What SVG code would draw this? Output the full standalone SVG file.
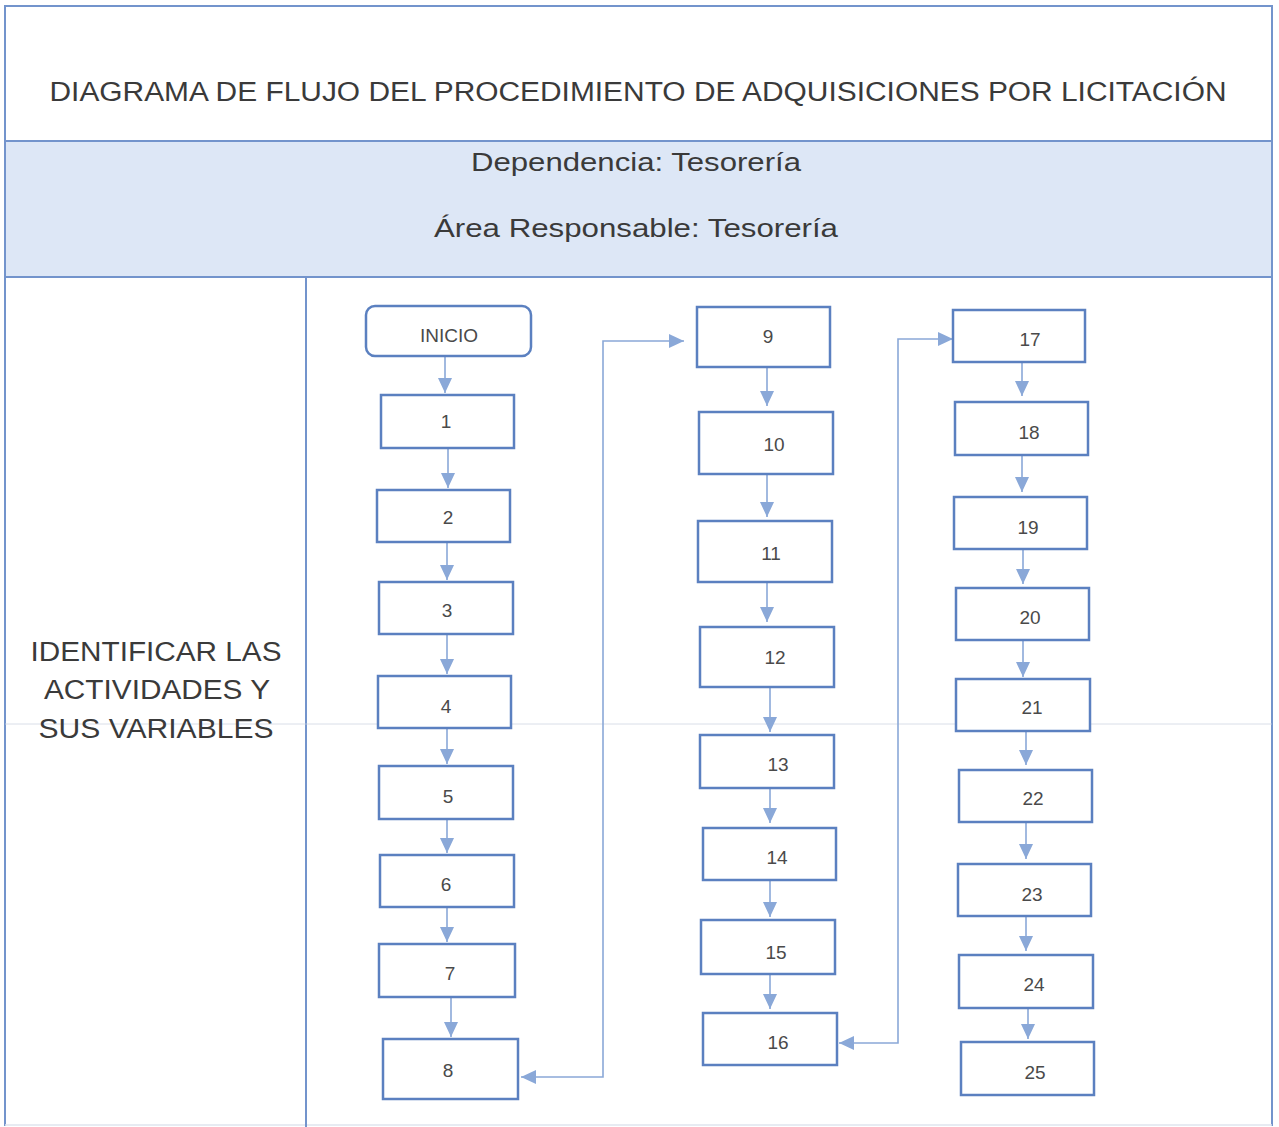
<svg xmlns="http://www.w3.org/2000/svg" width="1279" height="1127" viewBox="0 0 1279 1127">
<defs>
<style>
.frame{fill:none;stroke:#7394cc;stroke-width:2}
.box{fill:#ffffff;stroke:#5b80c0;stroke-width:2.5}
.lbl{font-family:"Liberation Sans",Arial,sans-serif;font-size:19px;fill:#4a4a4a;text-anchor:middle}
.hdr{font-family:"Liberation Sans",Arial,sans-serif;fill:#3a3a3a;text-anchor:middle}
.conn{fill:none;stroke:#8aa8d8;stroke-width:1.6}
</style>
<marker id="ah" markerUnits="userSpaceOnUse" markerWidth="16" markerHeight="16" viewBox="0 0 16 16" refX="15" refY="8" orient="auto-start-reverse">
<path d="M0,1 L15,8 L0,15 Z" fill="#8aa8d8"/>
</marker>
</defs>
<rect x="0" y="0" width="1279" height="1127" fill="#ffffff"/>
<rect x="6" y="142" width="1266" height="135" fill="#dde7f6"/>
<path d="M5,1126 V6 H1272 V1126" class="frame"/>
<line x1="5" y1="1125" x2="1272" y2="1125" stroke="#dfe4ee" stroke-width="1.5"/>
<line x1="5" y1="141" x2="1272" y2="141" class="frame" stroke-width="3"/>
<line x1="5" y1="277" x2="1272" y2="277" class="frame"/>
<line x1="306" y1="277" x2="306" y2="1127" class="frame"/>
<line x1="5" y1="724" x2="1272" y2="724" stroke="#c9d2e0" stroke-width="1" opacity="0.7"/>
<g id="header">
<text class="hdr" x="638" y="101" font-size="27" textLength="1177" lengthAdjust="spacingAndGlyphs">DIAGRAMA DE FLUJO DEL PROCEDIMIENTO DE ADQUISICIONES POR LICITACIÓN</text>
<text class="hdr" x="636" y="171" font-size="26" textLength="330" lengthAdjust="spacingAndGlyphs">Dependencia: Tesorería</text>
<text class="hdr" x="636" y="237" font-size="26" textLength="404" lengthAdjust="spacingAndGlyphs">Área Responsable: Tesorería</text>
</g>
<g id="side-label">
<text class="hdr" x="156" y="661" font-size="27" textLength="251" lengthAdjust="spacingAndGlyphs">IDENTIFICAR LAS</text>
<text class="hdr" x="157" y="699" font-size="27" textLength="226" lengthAdjust="spacingAndGlyphs">ACTIVIDADES Y</text>
<text class="hdr" x="156" y="738" font-size="27" textLength="235" lengthAdjust="spacingAndGlyphs">SUS VARIABLES</text>
</g>
<g id="connectors">
<line class="conn" x1="445" y1="357" x2="445" y2="393" marker-end="url(#ah)"/>
<line class="conn" x1="448" y1="449" x2="448" y2="488" marker-end="url(#ah)"/>
<line class="conn" x1="447" y1="543" x2="447" y2="580" marker-end="url(#ah)"/>
<line class="conn" x1="447" y1="635" x2="447" y2="674" marker-end="url(#ah)"/>
<line class="conn" x1="447" y1="729" x2="447" y2="764" marker-end="url(#ah)"/>
<line class="conn" x1="447" y1="820" x2="447" y2="853" marker-end="url(#ah)"/>
<line class="conn" x1="447" y1="908" x2="447" y2="942" marker-end="url(#ah)"/>
<line class="conn" x1="451" y1="998" x2="451" y2="1037" marker-end="url(#ah)"/>
<polyline class="conn" points="521,1077 603,1077 603,341 684,341" marker-start="url(#ah)" marker-end="url(#ah)"/>
<line class="conn" x1="767" y1="368" x2="767" y2="406" marker-end="url(#ah)"/>
<line class="conn" x1="767" y1="475" x2="767" y2="517" marker-end="url(#ah)"/>
<line class="conn" x1="767" y1="583" x2="767" y2="622" marker-end="url(#ah)"/>
<line class="conn" x1="770" y1="688" x2="770" y2="732" marker-end="url(#ah)"/>
<line class="conn" x1="770" y1="789" x2="770" y2="823" marker-end="url(#ah)"/>
<line class="conn" x1="770" y1="881" x2="770" y2="917" marker-end="url(#ah)"/>
<line class="conn" x1="770" y1="975" x2="770" y2="1009" marker-end="url(#ah)"/>
<polyline class="conn" points="839,1043 898,1043 898,339 953,339" marker-start="url(#ah)" marker-end="url(#ah)"/>
<line class="conn" x1="1022" y1="363" x2="1022" y2="396" marker-end="url(#ah)"/>
<line class="conn" x1="1022" y1="456" x2="1022" y2="492" marker-end="url(#ah)"/>
<line class="conn" x1="1023" y1="550" x2="1023" y2="584" marker-end="url(#ah)"/>
<line class="conn" x1="1023" y1="641" x2="1023" y2="677" marker-end="url(#ah)"/>
<line class="conn" x1="1026" y1="732" x2="1026" y2="765" marker-end="url(#ah)"/>
<line class="conn" x1="1026" y1="823" x2="1026" y2="859" marker-end="url(#ah)"/>
<line class="conn" x1="1026" y1="917" x2="1026" y2="951" marker-end="url(#ah)"/>
<line class="conn" x1="1028" y1="1009" x2="1028" y2="1039" marker-end="url(#ah)"/>
</g>
<g id="inicio"><rect class="box" x="366" y="306" width="165" height="50" rx="9"/><text class="lbl" x="449" y="342">INICIO</text></g>
<g id="n1"><rect class="box" x="381" y="395" width="133" height="53"/><text class="lbl" x="446" y="428">1</text></g>
<g id="n2"><rect class="box" x="377" y="490" width="133" height="52"/><text class="lbl" x="448" y="524">2</text></g>
<g id="n3"><rect class="box" x="379" y="582" width="134" height="52"/><text class="lbl" x="447" y="617">3</text></g>
<g id="n4"><rect class="box" x="378" y="676" width="133" height="52"/><text class="lbl" x="446" y="713">4</text></g>
<g id="n5"><rect class="box" x="379" y="766" width="134" height="53"/><text class="lbl" x="448" y="803">5</text></g>
<g id="n6"><rect class="box" x="380" y="855" width="134" height="52"/><text class="lbl" x="446" y="891">6</text></g>
<g id="n7"><rect class="box" x="379" y="944" width="136" height="53"/><text class="lbl" x="450" y="980">7</text></g>
<g id="n8"><rect class="box" x="383" y="1039" width="135" height="60"/><text class="lbl" x="448" y="1077">8</text></g>
<g id="n9"><rect class="box" x="697" y="307" width="133" height="60"/><text class="lbl" x="768" y="343">9</text></g>
<g id="n10"><rect class="box" x="699" y="412" width="134" height="62"/><text class="lbl" x="774" y="451">10</text></g>
<g id="n11"><rect class="box" x="698" y="521" width="134" height="61"/><text class="lbl" x="771" y="560">11</text></g>
<g id="n12"><rect class="box" x="700" y="627" width="134" height="60"/><text class="lbl" x="775" y="664">12</text></g>
<g id="n13"><rect class="box" x="700" y="735" width="134" height="53"/><text class="lbl" x="778" y="771">13</text></g>
<g id="n14"><rect class="box" x="703" y="828" width="133" height="52"/><text class="lbl" x="777" y="864">14</text></g>
<g id="n15"><rect class="box" x="701" y="920" width="134" height="54"/><text class="lbl" x="776" y="959">15</text></g>
<g id="n16"><rect class="box" x="703" y="1013" width="134" height="52"/><text class="lbl" x="778" y="1049">16</text></g>
<g id="n17"><rect class="box" x="953" y="310" width="132" height="52"/><text class="lbl" x="1030" y="346">17</text></g>
<g id="n18"><rect class="box" x="955" y="402" width="133" height="53"/><text class="lbl" x="1029" y="439">18</text></g>
<g id="n19"><rect class="box" x="954" y="497" width="133" height="52"/><text class="lbl" x="1028" y="534">19</text></g>
<g id="n20"><rect class="box" x="956" y="588" width="133" height="52"/><text class="lbl" x="1030" y="624">20</text></g>
<g id="n21"><rect class="box" x="956" y="679" width="134" height="52"/><text class="lbl" x="1032" y="714">21</text></g>
<g id="n22"><rect class="box" x="959" y="770" width="133" height="52"/><text class="lbl" x="1033" y="805">22</text></g>
<g id="n23"><rect class="box" x="958" y="864" width="133" height="52"/><text class="lbl" x="1032" y="901">23</text></g>
<g id="n24"><rect class="box" x="959" y="955" width="134" height="53"/><text class="lbl" x="1034" y="991">24</text></g>
<g id="n25"><rect class="box" x="961" y="1042" width="133" height="53"/><text class="lbl" x="1035" y="1079">25</text></g>
</svg>
